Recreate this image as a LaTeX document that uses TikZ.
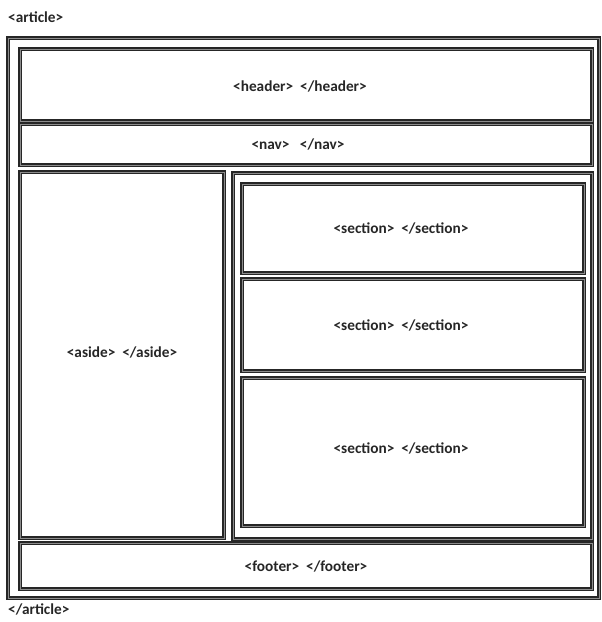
\documentclass[tikz,border=0pt]{standalone}
\usepackage{fontspec}
\setmainfont{Carlito}
\begin{document}
\begin{tikzpicture}[x=1pt,y=-1pt,
  box/.style={draw=black!85, line width=1.9pt, double=black!45, double distance=0.7pt, fill=none, inner sep=0pt, outer sep=0pt, anchor=north west},
  txt/.style={font=\bfseries\fontsize{15.3}{17}\selectfont, text=black!85, inner sep=0pt},
  lbl/.style={txt, anchor=west}]
\useasboundingbox[fill=white] (0,0) rectangle (602,622);
% article outer
\node[box, minimum width=591pt, minimum height=560pt] (article) at (8,38) {};
\node[lbl] (artopen) at (8,17) {<article>};
\node[lbl] (artclose) at (8,609) {</article>};
% header / nav
\node[box, minimum width=572pt, minimum height=72pt] (header) at (20,49) {};
\node[txt] (headert) at ([xshift=-6pt,yshift=-1pt]header.center) {<header>\ \ </header>};
\node[box, minimum width=572pt, minimum height=41pt] (nav) at (20,124) {};
\node[txt] (navt) at ([xshift=-8pt]nav.center) {<nav>\ \ \ </nav>};
% aside
\node[box, minimum width=204pt, minimum height=366pt] (aside) at (20,172) {};
\node[txt] (asidet) at ([yshift=3pt]aside.center) {<aside>\ \ </aside>};
% right container
\node[box, minimum width=359pt, minimum height=366pt] (main) at (233,173) {};
\node[box, minimum width=342pt, minimum height=89pt] (sec1) at (242,184) {};
\node[txt] (sec1t) at ([xshift=-12pt]sec1.center) {<section>\ \ </section>};
\node[box, minimum width=342pt, minimum height=92pt] (sec2) at (242,279) {};
\node[txt] (sec2t) at ([xshift=-12pt]sec2.center) {<section>\ \ </section>};
\node[box, minimum width=342pt, minimum height=148pt] (sec3) at (242,378) {};
\node[txt] (sec3t) at ([xshift=-12pt,yshift=4pt]sec3.center) {<section>\ \ </section>};
% footer
\node[box, minimum width=572pt, minimum height=46pt] (footer) at (20,543) {};
\node[txt] (footert) at (footer.center) {<footer>\ \ </footer>};
\end{tikzpicture}
\end{document}
